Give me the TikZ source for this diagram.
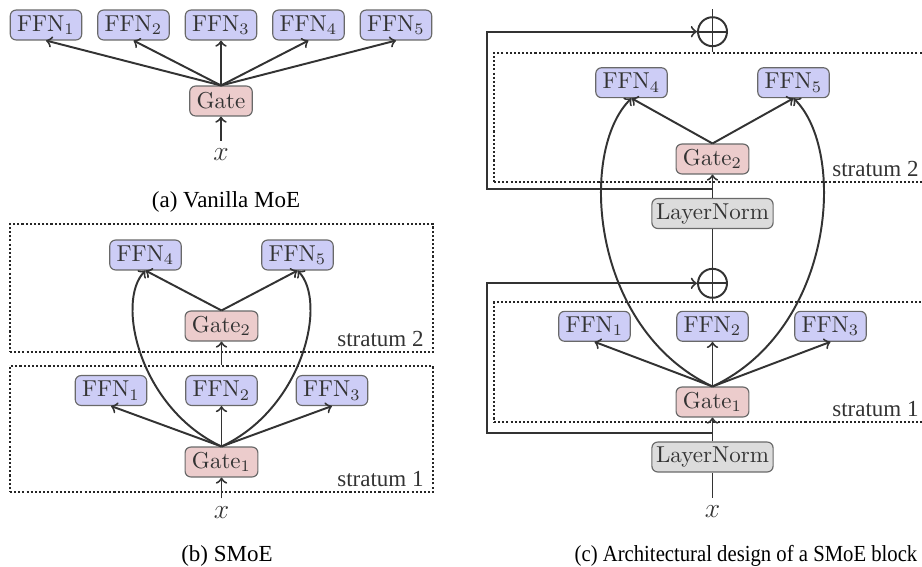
\documentclass[tikz,border=0pt]{standalone}
\usepackage{amsmath,amssymb}
\usepackage{fontspec}
\newfontfamily\capfont{Liberation Serif}
\usetikzlibrary{fit,calc}

\definecolor{ffnfill}{RGB}{205,205,246}
\definecolor{gatefill}{RGB}{236,204,204}
\definecolor{lnfill}{RGB}{220,220,220}
\definecolor{edgegray}{RGB}{105,105,105}
\definecolor{linegray}{RGB}{51,51,51}

\begin{document}
\begin{tikzpicture}[x=0.4348pt,y=-0.4348pt,
    box/.style={draw=edgegray, rounded corners=2.5pt, line width=0.5pt, text=black!80,
        minimum height=13pt, inner xsep=3pt, inner ysep=2pt},
    ffn/.style={box, fill=ffnfill},
    gate/.style={box, fill=gatefill},
    lnorm/.style={box, fill=lnfill, inner xsep=1.8pt},
    stratum/.style={draw=black!85, line width=0.9pt, dash pattern=on 0.9pt off 0.9pt, inner sep=0pt},
    slabel/.style={font=\capfont, text=black!80, anchor=base east, inner sep=0pt},
    captext/.style={font=\capfont, anchor=base, inner sep=0pt},
    sumnode/.style={circle, draw=linegray, line width=0.85pt, minimum size=12.6pt, inner sep=0pt},
    wire/.style={draw=linegray, line width=0.85pt},
    link/.style={wire, ->},
    xlabel/.style={text=black!80, font=\large}]
    \useasboundingbox (0,0) rectangle (922,566);

    % (a) vanilla MoE
    \foreach \i/\xx in {1/46,2/133.5,3/221,4/308.5,5/396}
        \node[ffn] (fa\i) at (\xx,25) {$\mathrm{FFN}_{\i}$};
    \node[gate] (ga) at (221,101) {Gate};
    \node[xlabel] (xa) at (221,155) {$x$};
    \foreach \i in {1,...,5}
        \draw[link] (ga.north) -- (fa\i.south);
    \draw[link] (xa.north) -- (ga.south);
    \node[captext] (capa) at (226,207) {(a) Vanilla MoE};

    % (b) SMoE
    \node[stratum, fit={(10,224) (433,352)}] (sb2) {};
    \node[stratum, fit={(10,366) (433,492)}] (sb1) {};
    \node[slabel] (lb2) at ($(sb2.south east)+(-10,-7)$) {stratum 2};
    \node[slabel] (lb1) at ($(sb1.south east)+(-10,-7)$) {stratum 1};

    \node[ffn] (fb4) at (145.5,255) {$\mathrm{FFN}_4$};
    \node[ffn] (fb5) at (297.5,255) {$\mathrm{FFN}_5$};
    \node[gate] (gb2) at (221.5,326) {Gate$_2$};
    \node[ffn] (fb1) at (111,390.5) {$\mathrm{FFN}_1$};
    \node[ffn] (fb2) at (221.5,390.5) {$\mathrm{FFN}_2$};
    \node[ffn] (fb3) at (332,390.5) {$\mathrm{FFN}_3$};
    \node[gate] (gb1) at (221.5,462) {Gate$_1$};
    \node[xlabel] (xb) at (221.5,512.5) {$x$};

    \foreach \i in {1,2,3}
        \draw[link] (gb1.north) -- (fb\i.south);
    \draw[link] (gb2.north) -- (fb4.south);
    \draw[link] (gb2.north) -- (fb5.south);
    \draw[link] (gb1.north) .. controls +(-81.5,-38) and +(-30.5,31) .. (fb4.south);
    \draw[link] (gb1.north) .. controls +(81.5,-38) and +(30.5,31) .. (fb5.south);
    \draw[link] (sb1.north) -- (gb2.south);
    \draw[link] (xb.north) -- (gb1.south);
    \node[captext] (capb) at (227,561) {(b) SMoE};

    % (c) SMoE block
    \node[stratum, fit={(494,53) (931,182)}] (sc2) {};
    \node[stratum, fit={(494,302) (931,422)}] (sc1) {};
    \node[slabel] (lc2) at ($(sc2.south east)+(-13,-7)$) {stratum 2};
    \node[slabel] (lc1) at ($(sc1.south east)+(-13,-7)$) {stratum 1};

    \node[sumnode] (sum2) at (712.5,31.7) {};
    \node[sumnode] (sum1) at (712.5,283.3) {};
    \coordinate (out) at (712.5,9);

    \node[ffn] (fc4) at (631.5,82.7) {$\mathrm{FFN}_4$};
    \node[ffn] (fc5) at (793.5,82.7) {$\mathrm{FFN}_5$};
    \node[gate] (gc2) at (712.5,159) {Gate$_2$};
    \node[lnorm] (ln2) at (712.5,213.5) {LayerNorm};
    \node[ffn] (fc1) at (594.5,326.3) {$\mathrm{FFN}_1$};
    \node[ffn] (fc2) at (712.5,326.3) {$\mathrm{FFN}_2$};
    \node[ffn] (fc3) at (830.5,326.3) {$\mathrm{FFN}_3$};
    \node[gate] (gc1) at (712.5,402) {Gate$_1$};
    \node[lnorm] (ln1) at (712.5,457) {LayerNorm};
    \node[xlabel] (xc) at (712.5,512) {$x$};

    \coordinate (br2) at (712.5,189);
    \coordinate (cr2) at (486.7,189);
    \coordinate (br1) at (712.5,433.3);
    \coordinate (cr1) at (486.7,433.3);

    \draw[wire] (xc.north) -- (ln1.south);
    \draw[link] (ln1.north) -- (gc1.south);
    \foreach \i in {1,2,3}
        \draw[link] (gc1.north) -- (fc\i.south);
    \draw[link] (gc1.north) .. controls +(-122.5,-57.7) and +(-53.5,52.3) .. (fc4.south);
    \draw[link] (gc1.north) .. controls +(122.5,-57.7) and +(53.5,52.3) .. (fc5.south);
    \draw[wire] (sc1.north) -- (ln2.south);
    \draw[wire] (sum1.west) -- (sum1.east);
    \draw[link] (br1) -- (cr1) |- (sum1.west);

    \draw[link] (ln2.north) -- (gc2.south);
    \draw[link] (gc2.north) -- (fc4.south);
    \draw[link] (gc2.north) -- (fc5.south);
    \draw[wire] (sc2.north) -- (out);
    \draw[wire] (sum2.west) -- (sum2.east);
    \draw[link] (br2) -- (cr2) |- (sum2.west);
    \node[captext] (capc) at (746,561) {\scalebox{0.9}[1]{(c) Architectural design of a SMoE block}};
\end{tikzpicture}
\end{document}
